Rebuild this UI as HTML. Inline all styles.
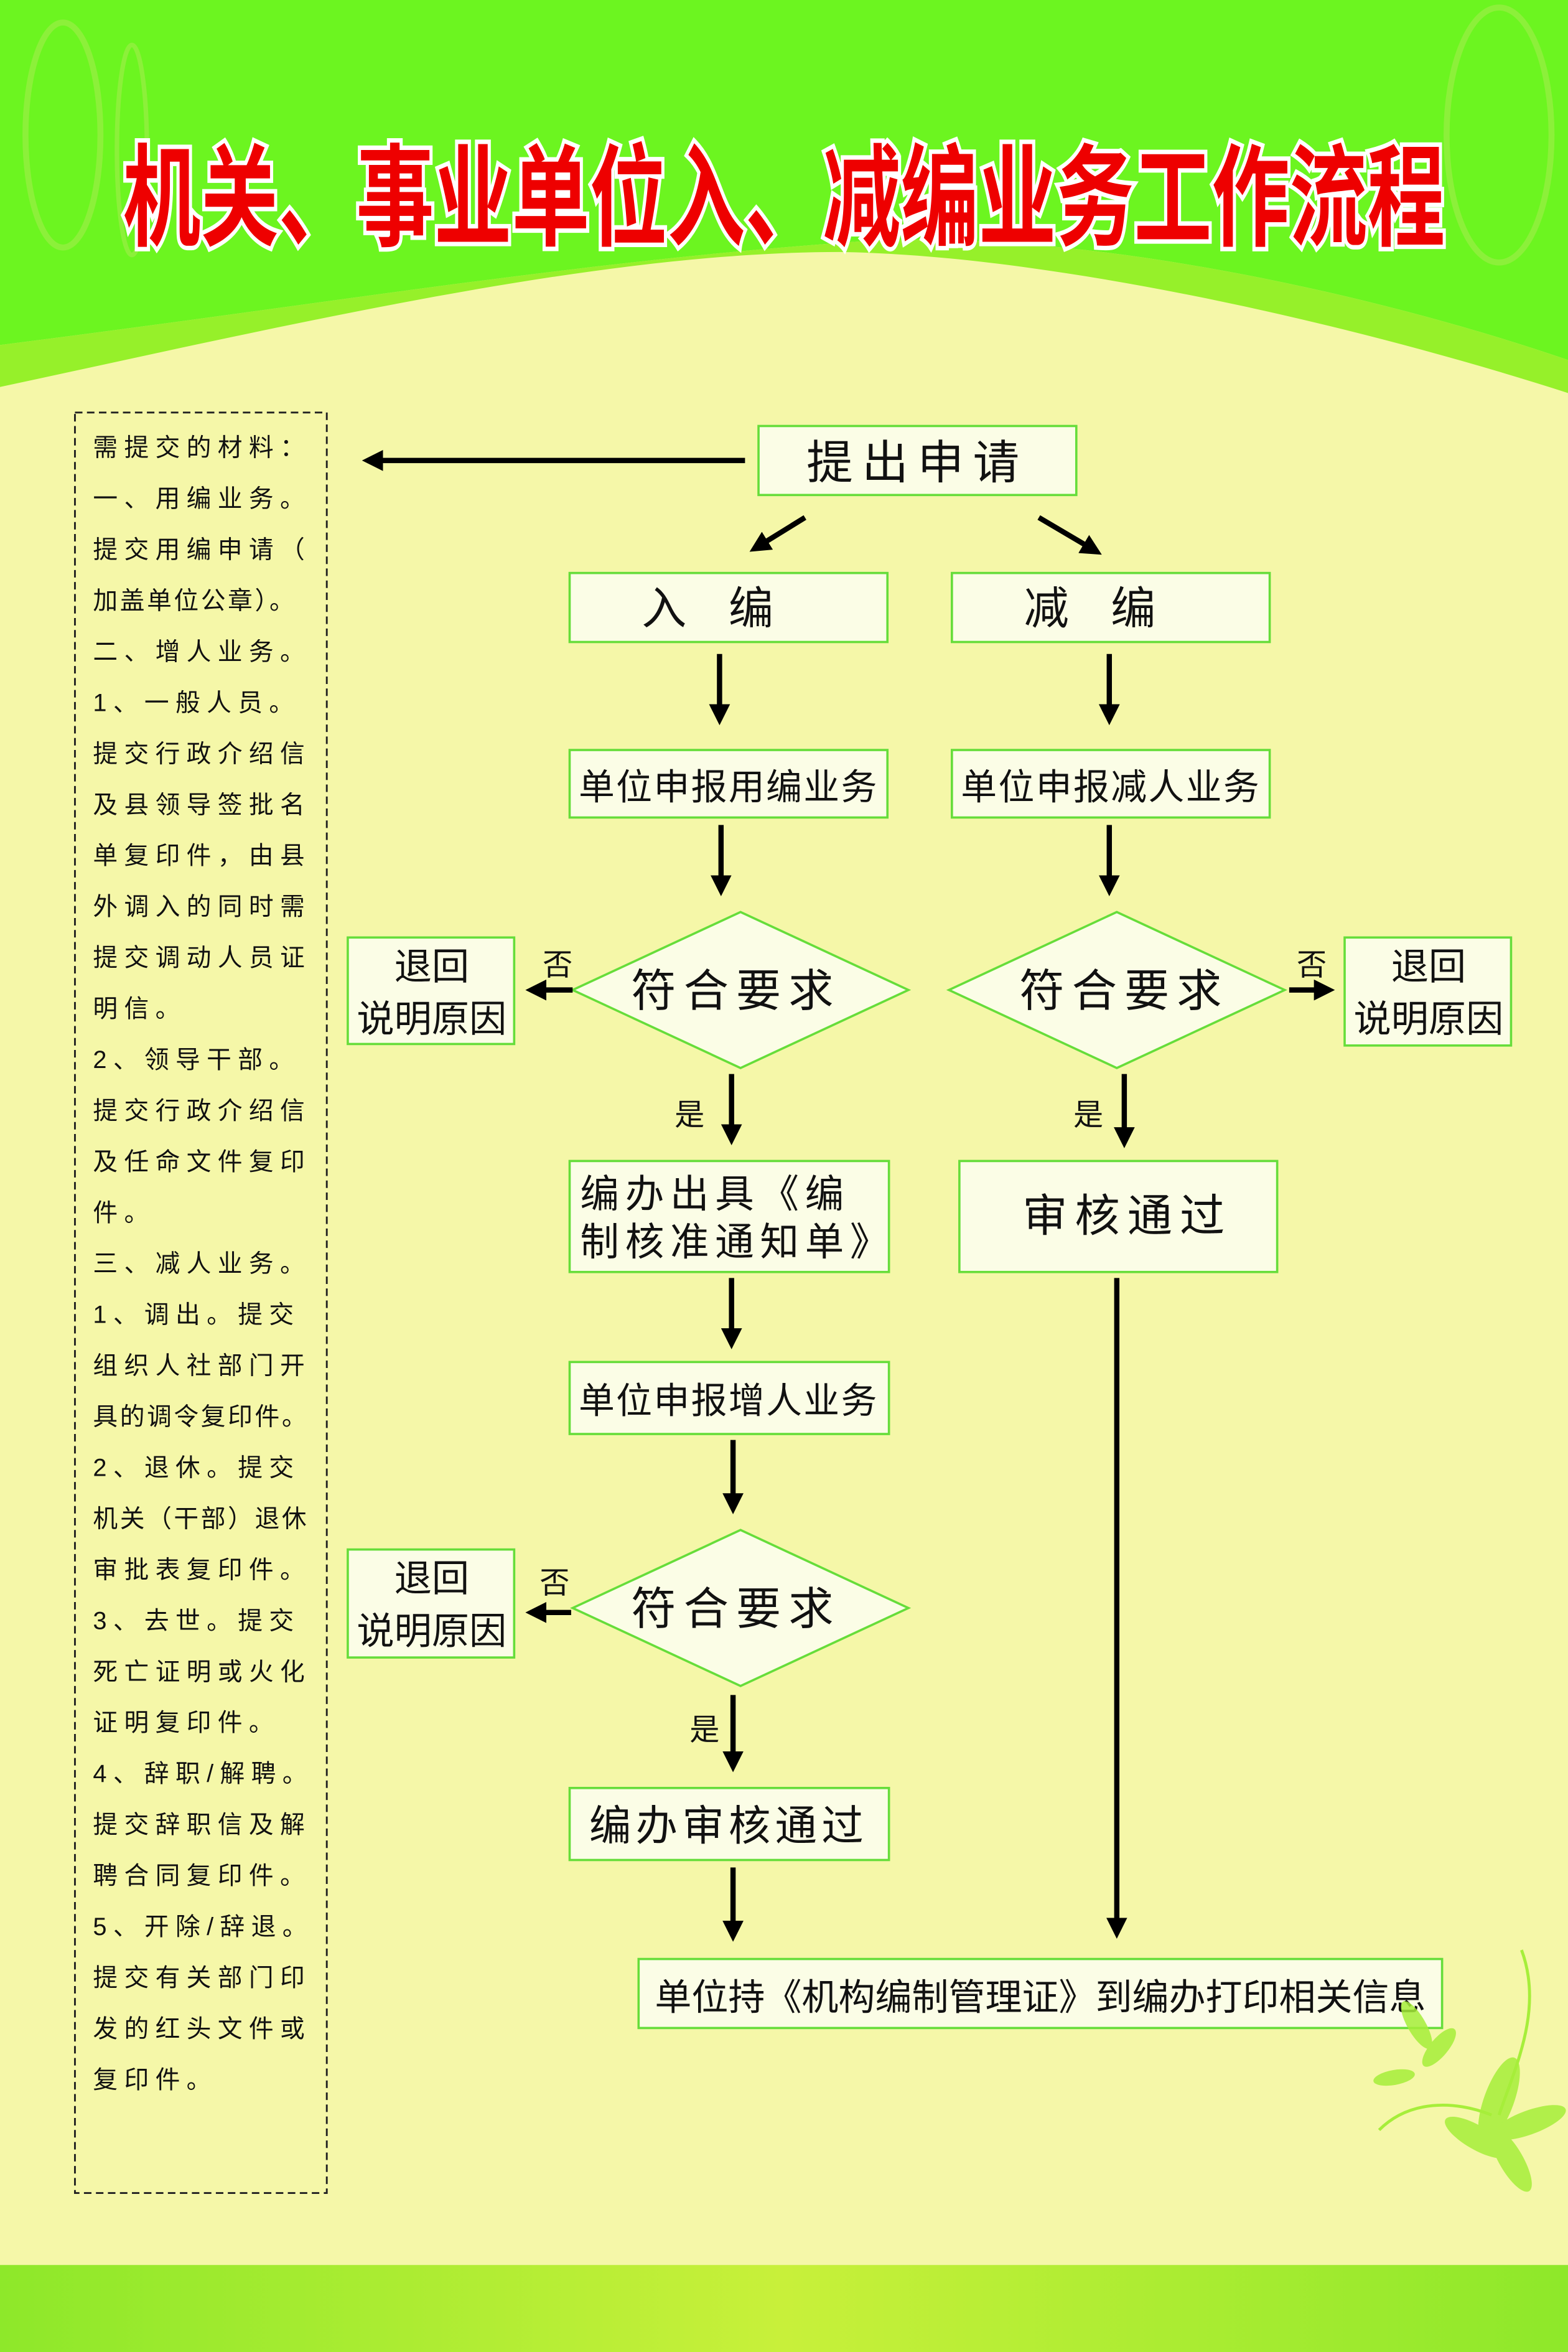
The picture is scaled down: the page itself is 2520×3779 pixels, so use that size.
<!DOCTYPE html>
<html><head><meta charset="utf-8"><style>
html,body{margin:0;padding:0;background:#f5f7a8;}
svg{display:block}
text{font-family:"Liberation Sans","Noto Sans CJK SC","WenQuanYi Zen Hei",sans-serif;}
</style></head><body>
<svg width="2520" height="3779" viewBox="0 0 1046 1568" preserveAspectRatio="none" xmlns="http://www.w3.org/2000/svg">
<defs>
<marker id="ah" markerWidth="4" markerHeight="4" refX="3" refY="2" orient="auto" markerUnits="strokeWidth">
<path d="M0,0 L4,2 L0,4 z" fill="#000"/></marker>
<linearGradient id="bot" x1="0" y1="0" x2="1" y2="0">
<stop offset="0" stop-color="#8ee82a"/><stop offset="0.5" stop-color="#c8f03a"/><stop offset="1" stop-color="#8ee82a"/></linearGradient>
</defs>
<rect width="1046" height="1568" fill="#f5f7a8"/>
<path d="M0,0 H1046 V240 C900,190 700,150 560,162 C380,175 200,205 0,230 Z" fill="#6cf520"/>
<path d="M0,230 C200,205 380,175 560,162 C700,150 900,190 1046,240 V262 C900,215 700,170 560,168 C400,168 200,215 0,258 Z" fill="#96f02a"/>
<ellipse cx="42" cy="90" rx="25" ry="75" fill="none" stroke="#8cf03a" stroke-width="4"/>
<ellipse cx="88" cy="100" rx="10" ry="70" fill="none" stroke="#8cf03a" stroke-width="3"/>
<ellipse cx="1000" cy="90" rx="35" ry="85" fill="none" stroke="#8cf03a" stroke-width="4"/>
<text x="82" y="158" font-size="74" font-weight="bold" fill="#ee0000" stroke="#fff" stroke-width="6" paint-order="stroke" textLength="882" lengthAdjust="spacingAndGlyphs">机关、事业单位入、减编业务工作流程</text>
<rect x="0" y="1510" width="1046" height="58" fill="url(#bot)"/>
<rect x="50" y="275" width="168" height="1187" fill="none" stroke="#222" stroke-width="1.2" stroke-dasharray="5,3"/>
<g font-size="16.5" fill="#111" letter-spacing="4.3">
<text x="62" y="304">需提交的材料：</text>
<text x="62" y="338">一、用编业务。</text>
<text x="62" y="372">提交用编申请（</text>
<text x="62" y="406" letter-spacing="1.5">加盖单位公章）。</text>
<text x="62" y="440">二、增人业务。</text>
<text x="62" y="474">1、一般人员。</text>
<text x="62" y="508">提交行政介绍信</text>
<text x="62" y="542">及县领导签批名</text>
<text x="62" y="576">单复印件，由县</text>
<text x="62" y="610">外调入的同时需</text>
<text x="62" y="644">提交调动人员证</text>
<text x="62" y="678">明信。</text>
<text x="62" y="712">2、领导干部。</text>
<text x="62" y="746">提交行政介绍信</text>
<text x="62" y="780">及任命文件复印</text>
<text x="62" y="814">件。</text>
<text x="62" y="848">三、减人业务。</text>
<text x="62" y="882">1、调出。提交</text>
<text x="62" y="916">组织人社部门开</text>
<text x="62" y="950" letter-spacing="1.5">具的调令复印件。</text>
<text x="62" y="984">2、退休。提交</text>
<text x="62" y="1018" letter-spacing="1.5">机关（干部）退休</text>
<text x="62" y="1052">审批表复印件。</text>
<text x="62" y="1086">3、去世。提交</text>
<text x="62" y="1120">死亡证明或火化</text>
<text x="62" y="1154">证明复印件。</text>
<text x="62" y="1188">4、辞职/解聘。</text>
<text x="62" y="1222">提交辞职信及解</text>
<text x="62" y="1256">聘合同复印件。</text>
<text x="62" y="1290">5、开除/辞退。</text>
<text x="62" y="1324">提交有关部门印</text>
<text x="62" y="1358">发的红头文件或</text>
<text x="62" y="1392">复印件。</text>
</g>
<g fill="#fbfde6" stroke="#66dd3a" stroke-width="1.5">
<rect x="506" y="284" width="212" height="46"/>
<rect x="380" y="382" width="212" height="46"/>
<rect x="635" y="382" width="212" height="46"/>
<rect x="380" y="500" width="212" height="45"/>
<rect x="635" y="500" width="212" height="45"/>
<polygon points="382,660 494,608 606,660 494,712"/>
<polygon points="633,660 745,608 857,660 745,712"/>
<rect x="232" y="625" width="111" height="71"/>
<rect x="897" y="625" width="111" height="72"/>
<rect x="380" y="774" width="213" height="74"/>
<rect x="640" y="774" width="212" height="74"/>
<rect x="380" y="908" width="213" height="48"/>
<polygon points="382,1072 494,1020 606,1072 494,1124"/>
<rect x="232" y="1033" width="111" height="72"/>
<rect x="380" y="1192" width="213" height="48"/>
<rect x="426" y="1306" width="536" height="46"/>
</g>
<g stroke="#000" stroke-width="3.5" fill="none" marker-end="url(#ah)">
<line x1="497" y1="307" x2="245" y2="307"/>
<line x1="537" y1="345" x2="503" y2="366"/>
<line x1="693" y1="345" x2="732" y2="368"/>
<line x1="480" y1="436" x2="480" y2="480"/>
<line x1="740" y1="436" x2="740" y2="480"/>
<line x1="481" y1="550" x2="481" y2="594"/>
<line x1="740" y1="550" x2="740" y2="594"/>
<line x1="382" y1="660" x2="354" y2="660"/>
<line x1="860" y1="660" x2="887" y2="660"/>
<line x1="488" y1="716" x2="488" y2="760"/>
<line x1="750" y1="716" x2="750" y2="762"/>
<line x1="488" y1="852" x2="488" y2="896"/>
<line x1="489" y1="960" x2="489" y2="1006"/>
<line x1="381" y1="1075" x2="354" y2="1075"/>
<line x1="489" y1="1130" x2="489" y2="1178"/>
<line x1="489" y1="1245" x2="489" y2="1291"/>
<line x1="745" y1="852" x2="745" y2="1289"/>
</g>
<g fill="#111" text-anchor="middle">
<text x="612" y="319" font-size="31" letter-spacing="6">提出申请</text>
<text x="486" y="416" font-size="30" letter-spacing="28">入编</text>
<text x="741" y="416" font-size="30" letter-spacing="28">减编</text>
<text x="486" y="533" font-size="24" letter-spacing="1">单位申报用编业务</text>
<text x="741" y="533" font-size="24" letter-spacing="1">单位申报减人业务</text>
<text x="491" y="671" font-size="30" letter-spacing="5">符合要求</text>
<text x="750" y="671" font-size="30" letter-spacing="5">符合要求</text>
<text x="288" y="653" font-size="25">退回</text>
<text x="288" y="688" font-size="25">说明原因</text>
<text x="953" y="653" font-size="25">退回</text>
<text x="953" y="688" font-size="25">说明原因</text>
<text x="372" y="650" font-size="20">否</text>
<text x="875" y="650" font-size="20">否</text>
<text x="460" y="750" font-size="20">是</text>
<text x="726" y="750" font-size="20">是</text>
<text x="387" y="805" font-size="26" text-anchor="start" letter-spacing="4">编办出具《编</text>
<text x="387" y="837" font-size="26" text-anchor="start" letter-spacing="4">制核准通知单》</text>
<text x="752" y="821" font-size="30" letter-spacing="5">审核通过</text>
<text x="486" y="942" font-size="24" letter-spacing="1">单位申报增人业务</text>
<text x="491" y="1083" font-size="30" letter-spacing="5">符合要求</text>
<text x="288" y="1061" font-size="25">退回</text>
<text x="288" y="1096" font-size="25">说明原因</text>
<text x="370" y="1062" font-size="20">否</text>
<text x="470" y="1160" font-size="20">是</text>
<text x="486" y="1227" font-size="28" letter-spacing="3">编办审核通过</text>
<text x="694" y="1340" font-size="24.5">单位持《机构编制管理证》到编办打印相关信息</text>
</g>
<g fill="#a6ee3a" opacity="0.85">
<ellipse cx="1000" cy="1400" rx="10" ry="30" transform="rotate(20 1000 1400)"/>
<ellipse cx="1020" cy="1415" rx="8" ry="26" transform="rotate(70 1020 1415)"/>
<ellipse cx="985" cy="1425" rx="8" ry="24" transform="rotate(-60 985 1425)"/>
<ellipse cx="1008" cy="1440" rx="8" ry="24" transform="rotate(150 1008 1440)"/>
<ellipse cx="945" cy="1350" rx="6" ry="18" transform="rotate(-30 945 1350)"/>
<ellipse cx="960" cy="1365" rx="6" ry="16" transform="rotate(40 960 1365)"/>
<ellipse cx="930" cy="1385" rx="5" ry="14" transform="rotate(80 930 1385)"/>
</g>
<path d="M1015,1300 C1030,1340 1010,1380 1000,1410 M920,1420 C940,1400 970,1400 995,1410" stroke="#a6ee3a" stroke-width="2" fill="none"/>
</svg>
</body></html>
